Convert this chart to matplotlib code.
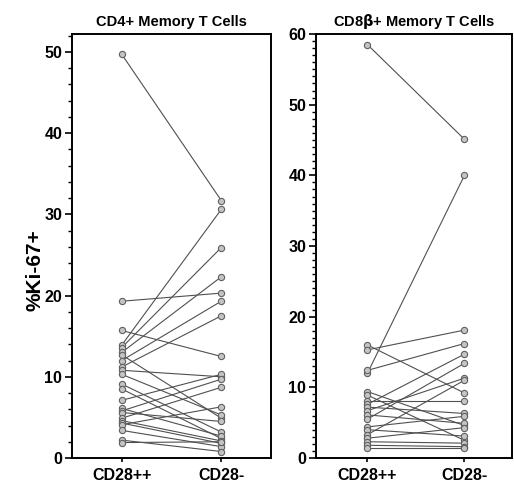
import matplotlib.pyplot as plt
from matplotlib.ticker import MultipleLocator

plt.rcParams['font.family'] = ['Liberation Sans', 'DejaVu Sans']
plt.rcParams['font.weight'] = 'bold'

groups = ['CD28++', 'CD28-']

# CD4+ memory T cells, %Ki-67+ (CD28++ -> CD28-)
cd4_pos = [49.7, 19.3, 15.7, 13.9, 13.6, 13.0, 12.7, 12.0, 11.2, 10.8, 10.3, 9.1,
           8.5, 7.1, 6.1, 5.8, 5.6, 4.9, 4.6, 4.3, 4.1, 3.4, 2.2, 1.9]
cd4_neg = [31.7, 20.3, 12.5, 30.6, 25.9, 22.3, 4.9, 19.3, 17.5, 10.0, 5.3, 3.2,
           2.4, 10.3, 2.7, 9.7, 4.5, 8.7, 2.1, 1.8, 6.3, 1.4, 0.8, 2.0]

# CD8b+ memory T cells
cd8_pos = [58.5, 12.0, 16.0, 15.3, 12.4, 9.4, 8.9, 8.1, 7.6, 7.2, 6.7, 6.1,
           5.5, 4.4, 4.0, 3.3, 2.8, 2.3, 1.8, 1.4]
cd8_neg = [45.1, 40.0, 9.2, 18.1, 16.2, 4.6, 2.5, 8.1, 14.7, 6.3, 11.3, 4.9,
           13.4, 5.9, 3.1, 11.0, 4.3, 2.1, 1.6, 1.4]

fig = plt.figure(figsize=(5.14, 4.82), dpi=100)
ax1 = fig.add_axes([72 / 514, 24 / 482, 199 / 514, 424 / 482])
ax2 = fig.add_axes([316 / 514, 24 / 482, 196 / 514, 424 / 482])


def draw(ax, pre, post, title, ymax, major, minor, xlim):
    for a, b in zip(pre, post):
        ax.plot([0, 1], [a, b], color='#505050', lw=0.8, zorder=2)
    ax.plot([0] * len(pre), pre, 'o', ms=4.5, mfc='#c4c4c4', mec='#606060',
            mew=0.8, zorder=3)
    ax.plot([1] * len(post), post, 'o', ms=4.5, mfc='#c4c4c4', mec='#606060',
            mew=0.8, zorder=3)
    ax.set_xlim(*xlim)
    ax.set_ylim(0, ymax)
    ax.set_xticks([0, 1])
    ax.set_xticklabels(groups, fontsize=11.5, fontweight='bold')
    ax.yaxis.set_major_locator(MultipleLocator(major))
    ax.yaxis.set_minor_locator(MultipleLocator(minor))
    ax.tick_params(axis='y', which='major', direction='out', length=5, width=1.2,
                   labelsize=11.5, pad=2)
    ax.tick_params(axis='y', which='minor', direction='out', length=3, width=1)
    ax.tick_params(axis='x', direction='out', length=3, width=1.2, pad=4)
    for s in ax.spines.values():
        s.set_linewidth(1.4)
    ax.set_title(title, fontsize=10.5, fontweight='bold', pad=6)


draw(ax1, cd4_pos, cd4_neg, 'CD4+ Memory T Cells', 52.2, 10, 2, (-0.5, 1.5))
draw(ax2, cd8_pos, cd8_neg, r'CD8$\mathbf{\beta}$+ Memory T Cells', 60, 10, 1,
     (-0.53, 1.49))

fig.text(35 / 514, 1 - 270 / 482, '%Ki-67+', rotation=90, ha='center',
         va='center', fontsize=15, fontweight='bold')

fig.savefig('out.png', dpi=100)
